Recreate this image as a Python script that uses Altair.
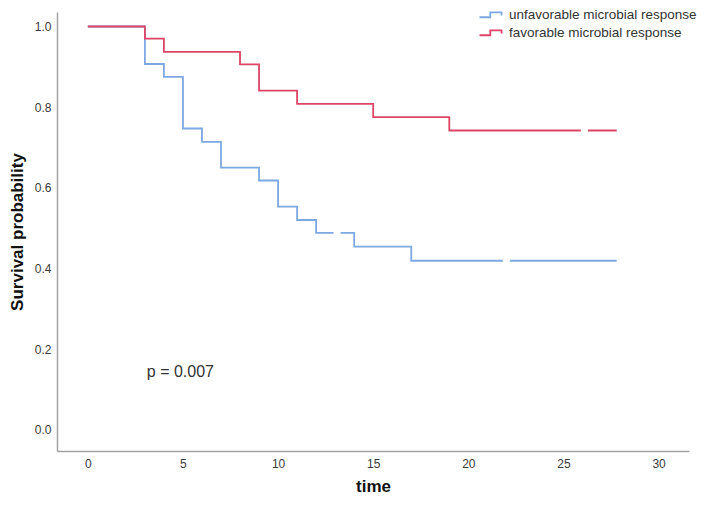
import altair as alt
import pandas as pd

# Kaplan-Meier step data
groups = ["unfavorable microbial response", "favorable microbial response"]
colors = ["#7ea8e2", "#dc4566"]

unfav_time = [0, 3, 4, 5, 6, 7, 9, 10, 11, 12, 14, 17, 27.8]
unfav_surv = [1.0, 0.907, 0.875, 0.747, 0.714, 0.650, 0.618, 0.553, 0.520, 0.488, 0.454, 0.419, 0.419]

fav_time = [0, 3, 4, 8, 9, 11, 15, 19, 27.8]
fav_surv = [1.0, 0.970, 0.937, 0.906, 0.841, 0.808, 0.775, 0.742, 0.742]

# censored observations (drawn as small gaps in the curves)
cens_time = [13.1, 22.0, 26.1]
cens_surv = [0.488, 0.419, 0.742]

x_ticks = [0, 5, 10, 15, 20, 25, 30]
y_ticks = [0.0, 0.2, 0.4, 0.6, 0.8, 1.0]

p_label = ["p = 0.007"]
p_x = [3.1]
p_y = [0.143]

rows = []
for g, ts, ss in [(groups[0], unfav_time, unfav_surv), (groups[1], fav_time, fav_surv)]:
    for i, (t, s) in enumerate(zip(ts, ss)):
        rows.append({"group": g, "time": t, "surv": s, "order": i})
curves = pd.DataFrame(rows)
cens = pd.DataFrame({"time": cens_time, "surv": cens_surv})
ptext = pd.DataFrame({"label": p_label, "time": p_x, "surv": p_y})

FONT = "Liberation Sans"

xscale = alt.Scale(domain=[-1.62, 31.6], nice=False, zero=False)
yscale = alt.Scale(domain=[-0.053, 1.036], nice=False, zero=False)

step_path = "M-1.5,0.25H-0.3V-0.3H0.95V0.05"

lines = alt.Chart(curves).mark_line(interpolate="step-after", strokeWidth=1.8).encode(
    x=alt.X("time:Q", scale=xscale,
            axis=alt.Axis(title="time", values=x_ticks, format="d", grid=False, ticks=False,
                          domainColor="#a3a3a3", domainWidth=1.5,
                          labelFont=FONT, labelFontSize=12, labelColor="#3a3a3a", labelPadding=7,
                          titleFont=FONT, titleFontSize=17, titleFontWeight="bold",
                          titleColor="#111111", titlePadding=9)),
    y=alt.Y("surv:Q", scale=yscale,
            axis=alt.Axis(title="Survival probability", values=y_ticks, format=".1f", grid=False,
                          ticks=False, domainColor="#a3a3a3", domainWidth=1.5,
                          labelFont=FONT, labelFontSize=12, labelColor="#3a3a3a", labelPadding=6,
                          titleFont=FONT, titleFontSize=17, titleFontWeight="bold",
                          titleColor="#111111", titlePadding=8)),
    color=alt.Color("group:N", scale=alt.Scale(domain=groups, range=colors),
                    legend=alt.Legend(title=None, orient="none", legendX=426, legendY=-7,
                                      symbolType=step_path, symbolSize=324,
                                      symbolStrokeWidth=1.8, symbolFillColor="transparent",
                                      labelFont=FONT, labelFontSize=13.5, labelColor="#333333",
                                      labelOffset=6, labelLimit=0, rowPadding=1, padding=0)),
    detail="group:N",
    order="order:Q",
)

gaps = alt.Chart(cens).mark_tick(orient="vertical", color="white", size=7, thickness=7, opacity=1).encode(
    x=alt.X("time:Q", scale=xscale),
    y=alt.Y("surv:Q", scale=yscale),
)

ptxt = alt.Chart(ptext).mark_text(align="left", baseline="middle", font=FONT, fontSize=16,
                                  color="#333333").encode(
    x=alt.X("time:Q", scale=xscale),
    y=alt.Y("surv:Q", scale=yscale),
    text="label:N",
)

chart = alt.layer(lines, gaps, ptxt).properties(
    width=632, height=439,
    background="white",
    autosize=alt.AutoSizeParams(type="none"),
    padding={"left": 49, "top": 4, "right": 12, "bottom": 47},
).configure_view(strokeOpacity=0, strokeWidth=0)

chart.save("out.html", embed_options={"renderer": "svg", "actions": False})
